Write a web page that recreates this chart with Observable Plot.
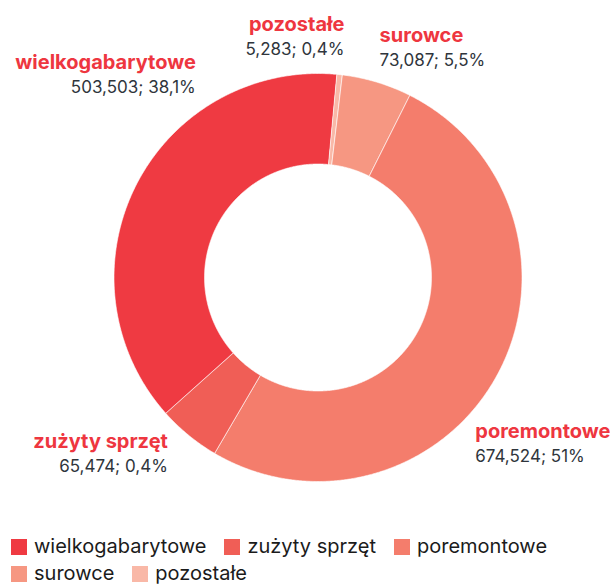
<!DOCTYPE html>
<html><head><meta charset="utf-8">
<script src="https://cdn.jsdelivr.net/npm/d3@7"></script>
<script src="https://cdn.jsdelivr.net/npm/@observablehq/plot@0.6"></script>
<style>
html,body{margin:0;padding:0;background:#fff;}
#chart svg{display:block;}
.lg-swatches{margin:0 !important;}
.lg-swatches-wrap{display:flex !important;flex-wrap:wrap !important;align-items:center !important;min-height:0 !important;margin:3px 0 0 11px !important;width:599px;}
.lg-swatch{display:inline-flex !important;align-items:center !important;margin-right:18px !important;line-height:27px;height:27px;}
.lg-swatch > svg{margin-right:7px !important;}
</style></head>
<body><div id="chart"></div>
<script>
// ---- data ----
const categories = ["wielkogabarytowe", "zużyty sprzęt", "poremontowe", "surowce", "pozostałe"];
const values = [503503, 65474, 674524, 73087, 5283];
const percentLabels = ["38,1%", "0,4%", "51%", "5,5%", "0,4%"];
const colors = ["#ef3a42", "#f05e56", "#f47d6c", "#f69782", "#f9b8a7"];

// ---- layout ----
const W = 610, H = 530, cx = 317.5, cy = 277, R = 204, R0 = 113.5;
const startDeg = 5.3;
// label offsets (px) from each slice's outer mid-point, and text anchors
const labelOffset = {
  "wielkogabarytowe": [60, -117, "end"],
  "zużyty sprzęt": [-21, 13, "end"],
  "poremontowe": [-22, 63, "start"],
  "surowce": [3, -40, "start"],
  "pozostałe": [5, -44, "end"]
};
const lineGap = 24;

const rad = Math.PI / 180;
const pie = d3.pie().sort(null).value(d => d.value)
  .startAngle(startDeg * rad).endAngle(startDeg * rad - 2 * Math.PI);
const rows = categories.map((name, i) => ({name, value: values[i], pct: percentLabels[i]}));
const arcs = pie(rows);

const pts = [];
for (const a of arcs) {
  const a0 = a.startAngle, a1 = a.endAngle;
  const n = Math.max(2, Math.ceil(Math.abs(a1 - a0) / (0.4 * rad)));
  for (let k = 0; k <= n; k++) {
    const t = a0 + (a1 - a0) * k / n;
    pts.push({name: a.data.name, x: Math.sin(t) * R, y: Math.cos(t) * R});
  }
  for (let k = n; k >= 0; k--) {
    const t = a0 + (a1 - a0) * k / n;
    pts.push({name: a.data.name, x: Math.sin(t) * R0, y: Math.cos(t) * R0});
  }
}

const fmt = d3.format(",");
const labels = arcs.map(a => {
  const m = (a.startAngle + a.endAngle) / 2;
  const [dx, dy, anchor] = labelOffset[a.data.name];
  return {
    name: a.data.name,
    text: fmt(a.data.value) + "; " + a.data.pct,
    x: Math.sin(m) * R + dx,
    y: Math.cos(m) * R - dy,
    anchor
  };
});

const font = "Inter, 'Noto Sans', sans-serif";
const textMarks = [];
for (const anchor of ["start", "end"]) {
  const sub = labels.filter(d => d.anchor === anchor);
  textMarks.push(Plot.text(sub, {
    x: "x", y: "y", text: "name", textAnchor: anchor, lineAnchor: "bottom",
    fill: "#ee3640", fontWeight: 700, fontSize: 20, fontFamily: font
  }));
  textMarks.push(Plot.text(sub, {
    x: "x", y: d => d.y - lineGap, text: "text", textAnchor: anchor, lineAnchor: "bottom",
    fill: "#2f353c", fontWeight: 400, fontSize: 17, fontFamily: font
  }));
}

const chart = Plot.plot({
  width: W, height: H,
  margin: 0,
  x: {domain: [-cx, W - cx], range: [0, W], axis: null},
  y: {domain: [-(H - cy), cy], range: [H, 0], axis: null},
  color: {type: "ordinal", domain: categories, range: colors},
  style: {background: "#fff", overflow: "visible"},
  marks: [
    Plot.line(pts, {x: "x", y: "y", z: "name", fill: "name", stroke: "#fff", strokeWidth: 0.6, curve: "linear-closed"}),
    ...textMarks
  ]
});

const legend = Plot.legend({
  color: {type: "ordinal", domain: categories, range: colors},
  legend: "swatches",
  swatchSize: 16,
  className: "lg",
  style: {fontFamily: font, fontSize: "20px", color: "#1b1b1b"}
});

const root = document.getElementById("chart");
root.appendChild(chart);
root.appendChild(legend);
</script>
</body></html>
